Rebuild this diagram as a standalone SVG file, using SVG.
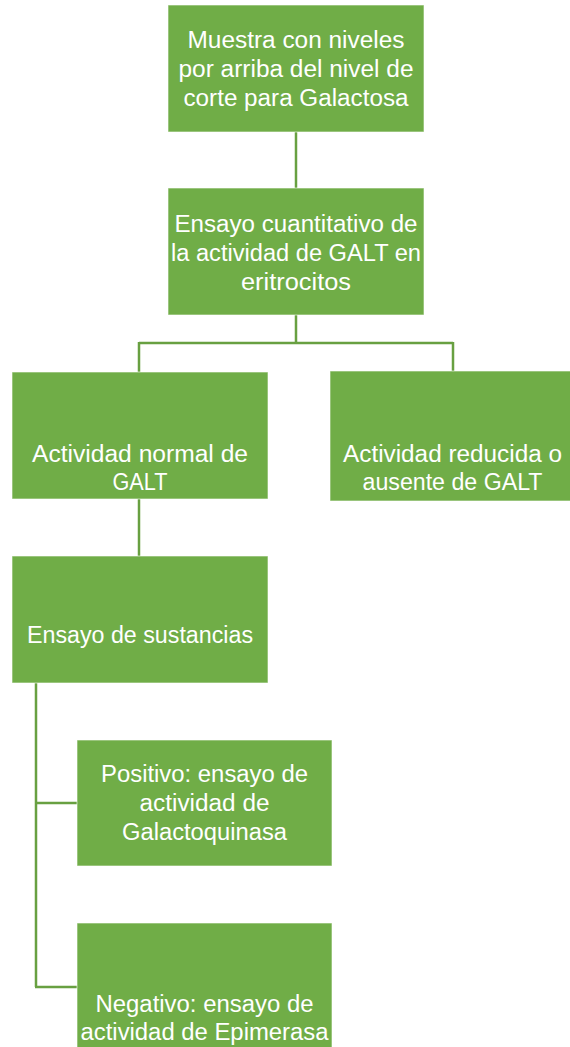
<svg xmlns="http://www.w3.org/2000/svg" width="570" height="1047" viewBox="0 0 570 1047">
  <style>
    .box { fill: #70AD47; stroke: #ffffff; stroke-width: 1; stroke-opacity: 0.6; }
    .lbl { fill: #ffffff; font-family: "Liberation Sans", Arial, sans-serif; font-size: 23.5px; text-anchor: middle; }
    .conn { fill: none; stroke: #68A041; stroke-width: 2.5; }
  </style>
  <rect width="570" height="1047" fill="#ffffff"/>
  <g id="connectors">
    <path class="conn" d="M296 131 V188"/>
    <path class="conn" d="M296 315 V343 M139 343 H453 M139 342 V372 M453 342 V371"/>
    <path class="conn" d="M139 499 V556"/>
    <path class="conn" d="M36 683 V987 M35 803 H77 M35 987 H77"/>
  </g>
  <g id="node-muestra">
    <rect class="box" x="168" y="5" width="256" height="127"/>
    <text class="lbl" x="296" y="48" textLength="217" lengthAdjust="spacingAndGlyphs">Muestra con niveles</text>
    <text class="lbl" x="296" y="77" textLength="235" lengthAdjust="spacingAndGlyphs">por arriba del nivel de</text>
    <text class="lbl" x="296" y="106" textLength="225" lengthAdjust="spacingAndGlyphs">corte para Galactosa</text>
  </g>
  <g id="node-ensayo-cuantitativo">
    <rect class="box" x="168" y="188" width="256" height="127"/>
    <text class="lbl" x="296" y="232" textLength="243" lengthAdjust="spacingAndGlyphs">Ensayo cuantitativo de</text>
    <text class="lbl" x="296" y="261" textLength="250" lengthAdjust="spacingAndGlyphs">la actividad de GALT en</text>
    <text class="lbl" x="296" y="290" textLength="110" lengthAdjust="spacingAndGlyphs">eritrocitos</text>
  </g>
  <g id="node-actividad-normal">
    <rect class="box" x="12" y="372" width="256" height="127"/>
    <text class="lbl" x="140" y="462" textLength="216" lengthAdjust="spacingAndGlyphs">Actividad normal de</text>
    <text class="lbl" x="140" y="490" textLength="55" lengthAdjust="spacingAndGlyphs">GALT</text>
  </g>
  <g id="node-actividad-reducida">
    <rect class="box" x="330" y="371" width="250" height="130"/>
    <text class="lbl" x="452.5" y="462" textLength="219" lengthAdjust="spacingAndGlyphs">Actividad reducida o</text>
    <text class="lbl" x="452.5" y="490" textLength="180" lengthAdjust="spacingAndGlyphs">ausente de GALT</text>
  </g>
  <g id="node-ensayo-sustancias">
    <rect class="box" x="12" y="556" width="256" height="127"/>
    <text class="lbl" x="140" y="643" textLength="226" lengthAdjust="spacingAndGlyphs">Ensayo de sustancias</text>
  </g>
  <g id="node-positivo">
    <rect class="box" x="77" y="740" width="255" height="126"/>
    <text class="lbl" x="204.5" y="782" textLength="207" lengthAdjust="spacingAndGlyphs">Positivo: ensayo de</text>
    <text class="lbl" x="204.5" y="811" textLength="130" lengthAdjust="spacingAndGlyphs">actividad de</text>
    <text class="lbl" x="204.5" y="840" textLength="165" lengthAdjust="spacingAndGlyphs">Galactoquinasa</text>
  </g>
  <g id="node-negativo">
    <rect class="box" x="77" y="923" width="255" height="130"/>
    <text class="lbl" x="204.5" y="1012" textLength="218" lengthAdjust="spacingAndGlyphs">Negativo: ensayo de</text>
    <text class="lbl" x="204.5" y="1040" textLength="248" lengthAdjust="spacingAndGlyphs">actividad de Epimerasa</text>
  </g>
</svg>
